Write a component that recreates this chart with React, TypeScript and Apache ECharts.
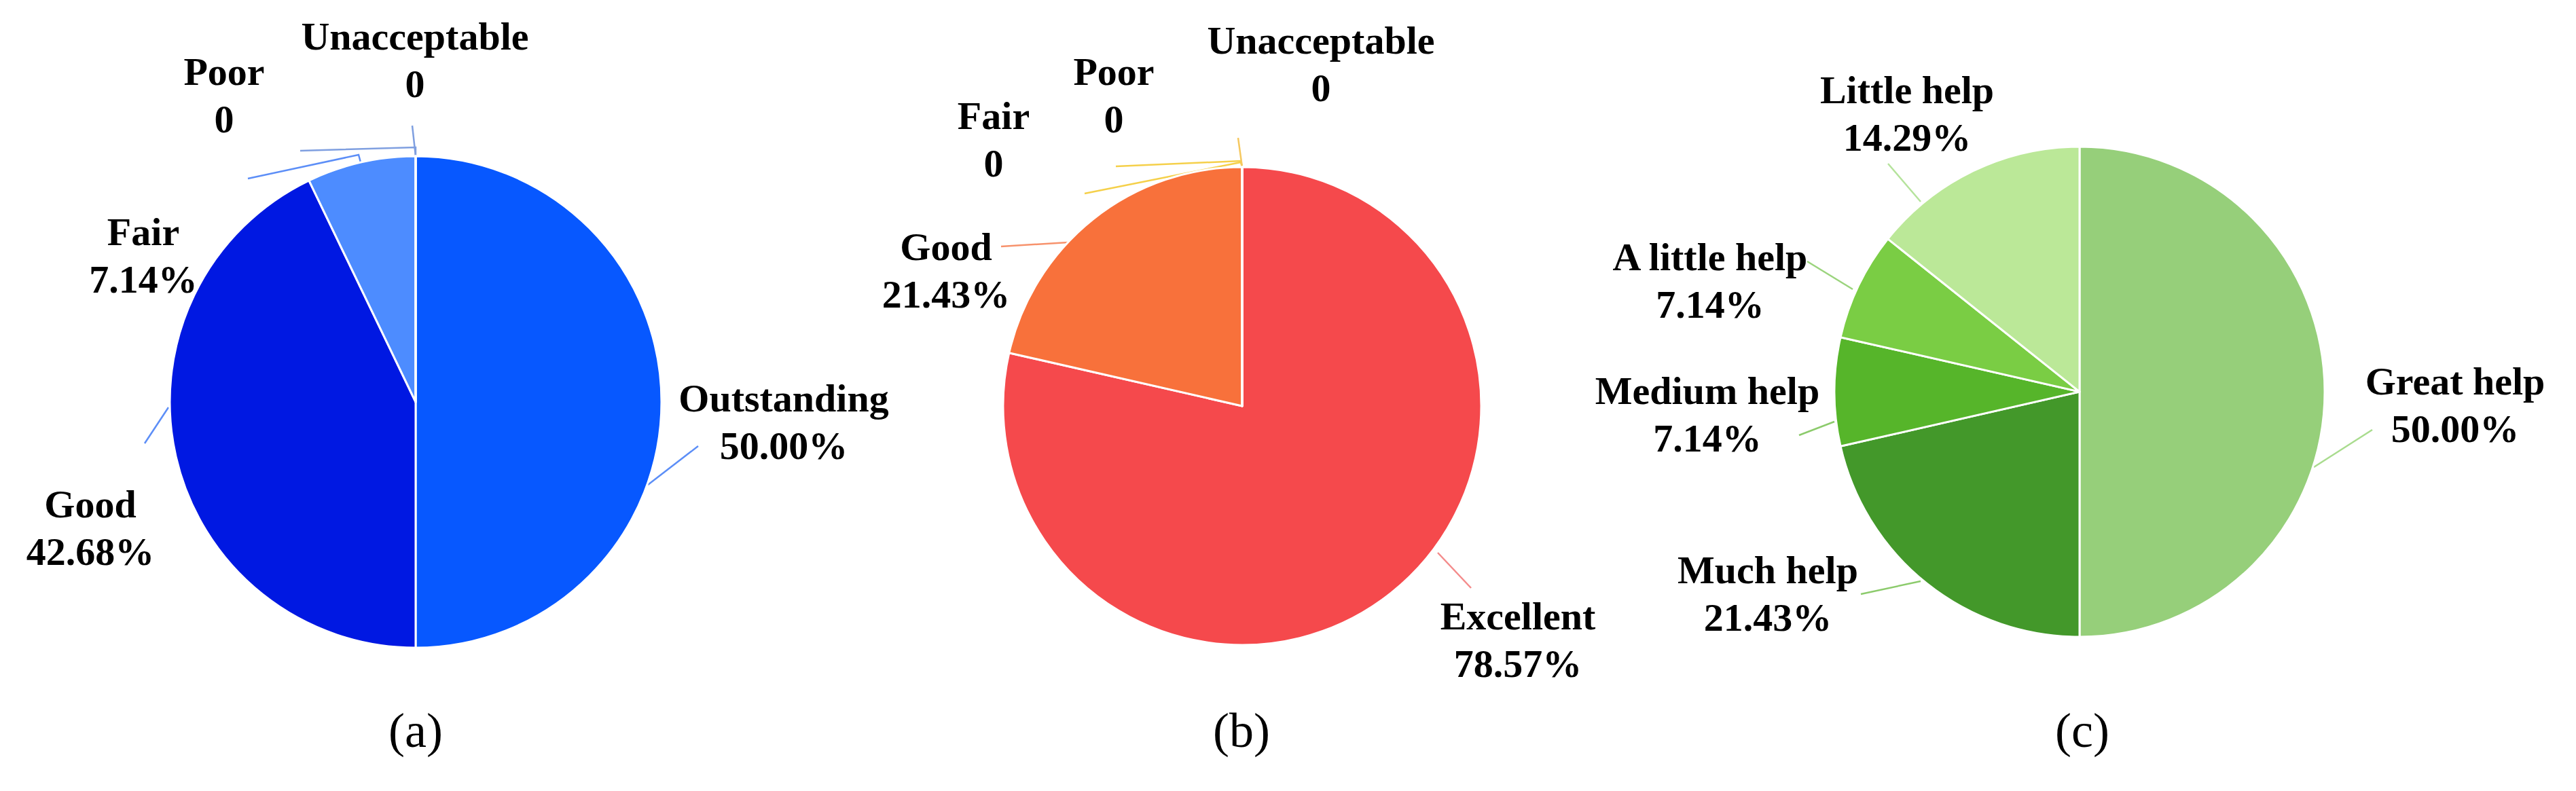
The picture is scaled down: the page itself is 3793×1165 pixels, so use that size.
import React, { useEffect, useRef } from "react";
import * as echarts from "echarts";

// ---- Data ----
const CATS_A = ["Outstanding", "Good", "Fair", "Poor", "Unacceptable"];
const VALUES_A = [7, 6, 1, 0, 0];
const TEXT_A = ["50.00%", "42.68%", "7.14%", "0", "0"];

const CATS_B = ["Excellent", "Good", "Fair", "Poor", "Unacceptable"];
const VALUES_B = [11, 3, 0, 0, 0];
const TEXT_B = ["78.57%", "21.43%", "0", "0", "0"];

const CATS_C = ["Great help", "Much help", "Medium help", "A little help", "Little help"];
const VALUES_C = [7, 3, 1, 1, 2];
const TEXT_C = ["50.00%", "21.43%", "7.14%", "7.14%", "14.29%"];

const CAPTIONS = ["(a)", "(b)", "(c)"];

// ---- Styles / layout ----
const COLORS_A = ["#0758FF", "#0018E2", "#4D8CFF", "#4D8CFF", "#4D8CFF"];
const COLORS_B = ["#F5494C", "#F8713B", "#F7C844", "#F7C844", "#F7C844"];
const COLORS_C = ["#96CF7A", "#43982A", "#56B52A", "#7ACD44", "#BBE898"];
const LINE_A = ["#5C8EF7", "#5C8EF7", "#5C8EF7", "#7F9FE0", "#7F9FE0"];
const LINE_B = ["#F48B8B", "#F7926C", "#F5D04A", "#F5D04A", "#F5C860"];
const LINE_C = ["#A9DC8E", "#8CCB6C", "#8CCB6C", "#9BD47D", "#B5E39C"];

const PIES = [
  { center: [612, 592], radius: 362, captionX: 612 },
  { center: [1829, 598], radius: 352, captionX: 1828 },
  { center: [3062, 577], radius: 361, captionX: 3066 },
];
const CAPTION_Y = 1076;

// label block centres and leader-line points (layout only)
const LAYOUT_A = [
  { x: 1154, y: 621, line: [[954, 714], [1028, 657]] },
  { x: 133, y: 777, line: [[248, 600], [213, 653]] },
  { x: 211, y: 376, line: [[531, 239], [528, 228], [365, 263]] },
  { x: 330, y: 140, line: [[612, 230], [612, 217], [442, 222]] },
  { x: 611, y: 88, line: [[612, 230], [607, 185]] },
];
const LAYOUT_B = [
  { x: 2235, y: 942, line: [[2117, 814], [2166, 866]] },
  { x: 1393, y: 398, line: [[1573, 357], [1474, 363]] },
  { x: 1463, y: 205, line: [[1829, 246], [1827, 239], [1597, 285]] },
  { x: 1640, y: 140, line: [[1829, 246], [1827, 237], [1643, 245]] },
  { x: 1945, y: 94, line: [[1829, 246], [1823, 203]] },
];
const LAYOUT_C = [
  { x: 3615, y: 596, line: [[3407, 688], [3493, 633]] },
  { x: 2603, y: 874, line: [[2828, 856], [2740, 875]] },
  { x: 2514, y: 610, line: [[2701, 621], [2649, 641]] },
  { x: 2518, y: 413, line: [[2728, 426], [2661, 385]] },
  { x: 2808, y: 167, line: [[2828, 297], [2780, 241]] },
];

const FONT = '"Liberation Serif", "Times New Roman", serif';

function makeSeries(
  idx: number,
  cats: string[],
  values: number[],
  texts: string[],
  colors: string[],
  lineColors: string[],
  layout: { x: number; y: number; line: number[][] }[]
) {
  const p = PIES[idx];
  return {
    type: "pie",
    center: p.center,
    radius: p.radius,
    startAngle: 90,
    clockwise: true,
    avoidLabelOverlap: false,
    stillShowZeroSum: true,
    minShowLabelAngle: 0,
    data: cats.map((name, i) => ({
      name,
      value: values[i],
      itemStyle: { color: colors[i] },
      labelLine: { lineStyle: { color: lineColors[i] } },
    })),
    itemStyle: { borderColor: "#ffffff", borderWidth: 3 },
    label: {
      show: true,
      formatter: (prm: any) => `${prm.name}\n${texts[prm.dataIndex]}`,
      fontFamily: FONT,
      fontWeight: "bold",
      fontSize: 58,
      lineHeight: 70,
      color: "#000",
      align: "center",
    },
    labelLine: {
      show: true,
      length: 10,
      length2: 10,
      lineStyle: { width: 2.5 },
    },
    labelLayout: (prm: any) => {
      const l = layout[prm.dataIndex];
      return {
        x: l.x,
        y: l.y,
        align: "center",
        verticalAlign: "middle",
        labelLinePoints: l.line,
      };
    },
    emphasis: { disabled: true },
  };
}

export default function App() {
  const ref = useRef<HTMLDivElement>(null);
  useEffect(() => {
    document.body.style.margin = "0";
    if (!ref.current) return;
    const chart = echarts.init(ref.current, null, { renderer: "svg" });
    chart.setOption({
      animation: false,
      backgroundColor: "#ffffff",
      series: [
        makeSeries(0, CATS_A, VALUES_A, TEXT_A, COLORS_A, LINE_A, LAYOUT_A),
        makeSeries(1, CATS_B, VALUES_B, TEXT_B, COLORS_B, LINE_B, LAYOUT_B),
        makeSeries(2, CATS_C, VALUES_C, TEXT_C, COLORS_C, LINE_C, LAYOUT_C),
      ],
      graphic: CAPTIONS.map((c, i) => ({
        type: "text",
        x: PIES[i].captionX,
        y: CAPTION_Y,
        style: {
          text: c,
          font: `72px ${FONT}`,
          fill: "#000",
          align: "center",
          verticalAlign: "middle",
        },
      })),
    });
    return () => chart.dispose();
  }, []);
  return <div ref={ref} style={{ width: 3793, height: 1165 }} />;
}
